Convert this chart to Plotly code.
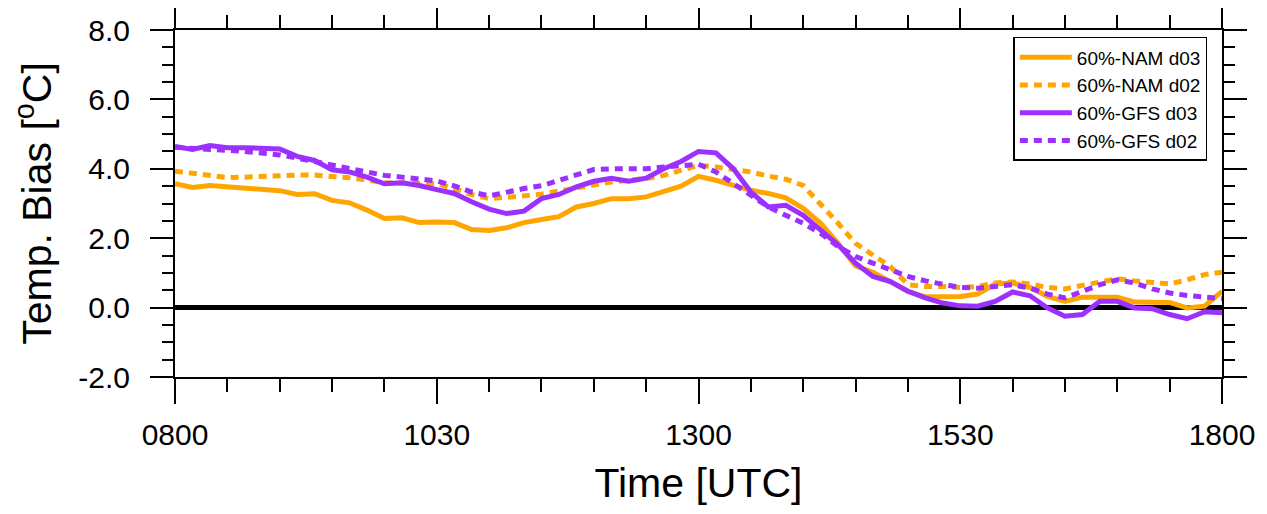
import plotly.graph_objects as go

# time in minutes after 0800 UTC, every 10 minutes
minutes = list(range(0, 601, 10))
hours = [8 + m / 60 for m in minutes]

nam_d03 = [3.57, 3.46, 3.52, 3.48, 3.42, 3.40, 3.37, 3.26, 3.28, 3.09,
           3.02, 2.81, 2.57, 2.59, 2.45, 2.47, 2.45, 2.25, 2.22, 2.30,
           2.45, 2.54, 2.62, 2.90, 3.00, 3.14, 3.14, 3.19, 3.33, 3.50,
           3.78, 3.67, 3.52, 3.38, 3.29, 3.16, 2.86, 2.43, 1.85, 1.20,
           1.02, 0.75, 0.47, 0.31, 0.31, 0.32, 0.39, 0.68, 0.71, 0.58,
           0.32, 0.18, 0.30, 0.31, 0.30, 0.16, 0.16, 0.15, -0.01, 0.04,
           0.47]
nam_d02 = [3.93, 3.86, 3.80, 3.75, 3.76, 3.79, 3.81, 3.82, 3.82, 3.79,
           3.74, 3.68, 3.60, 3.59, 3.58, 3.57, 3.43, 3.26, 3.14, 3.17,
           3.22, 3.27, 3.36, 3.46, 3.54, 3.62, 3.67, 3.72, 3.81, 3.95,
           4.10, 4.05, 3.98, 3.91, 3.79, 3.70, 3.52, 3.00, 2.43, 1.85,
           1.52, 1.18, 0.66, 0.61, 0.61, 0.58, 0.61, 0.71, 0.74, 0.68,
           0.58, 0.54, 0.64, 0.75, 0.83, 0.77, 0.73, 0.68, 0.80, 0.95,
           1.02]
gfs_d03 = [4.64, 4.56, 4.67, 4.61, 4.61, 4.59, 4.57, 4.36, 4.24, 3.97,
           3.91, 3.76, 3.57, 3.60, 3.52, 3.40, 3.29, 3.05, 2.84, 2.71,
           2.78, 3.14, 3.26, 3.48, 3.64, 3.73, 3.64, 3.73, 4.00, 4.21,
           4.50, 4.46, 4.00, 3.33, 2.90, 2.95, 2.66, 2.23, 1.81, 1.28,
           0.90, 0.75, 0.47, 0.28, 0.13, 0.05, 0.04, 0.18, 0.45, 0.34,
           -0.01, -0.25, -0.20, 0.18, 0.18, -0.01, -0.03, -0.20, -0.32, -0.12,
           -0.15]
gfs_d02 = [4.62, 4.60, 4.58, 4.53, 4.50, 4.46, 4.40, 4.31, 4.21, 4.08,
           4.00, 3.91, 3.81, 3.76, 3.72, 3.65, 3.51, 3.33, 3.22, 3.33,
           3.43, 3.51, 3.67, 3.81, 3.98, 4.00, 4.00, 4.00, 4.05, 4.08,
           4.13, 3.91, 3.57, 3.24, 2.90, 2.66, 2.43, 2.14, 1.76, 1.47,
           1.28, 1.06, 0.90, 0.77, 0.68, 0.58, 0.56, 0.61, 0.66, 0.56,
           0.39, 0.28, 0.47, 0.66, 0.80, 0.71, 0.54, 0.42, 0.35, 0.31,
           0.26]

x_tickvals = [8, 10.5, 13, 15.5, 18]
x_ticktext = ["0800", "1030", "1300", "1530", "1800"]
y_tickvals = [-2, 0, 2, 4, 6, 8]
y_ticktext = ["-2.0", "0.0", "2.0", "4.0", "6.0", "8.0"]

ORANGE = "#FFA500"
PURPLE = "#9B30FF"
FONT = "Liberation Sans, Arial, Helvetica, sans-serif"
DOT = "8px,6px"

fig = go.Figure()
series = [
    ("60%-NAM d03", nam_d03, ORANGE, "solid"),
    ("60%-NAM d02", nam_d02, ORANGE, DOT),
    ("60%-GFS d03", gfs_d03, PURPLE, "solid"),
    ("60%-GFS d02", gfs_d02, PURPLE, DOT),
]
for name, vals, col, dash in series:
    fig.add_trace(go.Scatter(x=hours, y=vals, mode="lines", name=name,
                             line=dict(color=col, width=5, dash=dash)))

# page body has an 8px margin, so the figure is sized to fit the window
fig.update_layout(
    width=1259, height=506, autosize=False,
    margin=dict(l=167, r=45, t=22, b=137),
    paper_bgcolor="white", plot_bgcolor="white",
    font=dict(family=FONT, color="black"),
    showlegend=True,
    legend=dict(x=0.986, y=0.98, xanchor="right", yanchor="top",
                bgcolor="white", bordercolor="black", borderwidth=1.5,
                font=dict(size=19, family=FONT),
                tracegroupgap=0, itemwidth=52),
)
fig.update_xaxes(
    range=[8, 18], tickvals=x_tickvals, ticktext=x_ticktext,
    automargin=False,
    showgrid=False, zeroline=False,
    showline=True, linecolor="black", linewidth=2, mirror="allticks",
    ticks="outside", ticklen=25, tickwidth=2, tickcolor="black",
    minor=dict(dtick=0.5, tick0=8, ticks="outside", ticklen=13,
               tickwidth=1.5, tickcolor="black", showgrid=False),
    tickfont=dict(size=30, family=FONT),
    ticklabelstandoff=5,
    title=dict(text="Time [UTC]", font=dict(size=41, family=FONT), standoff=18),
)
fig.update_yaxes(
    range=[-2, 8], tickvals=y_tickvals, ticktext=y_ticktext,
    automargin=False,
    showgrid=False, zeroline=True, zerolinecolor="black", zerolinewidth=5,
    showline=True, linecolor="black", linewidth=2, mirror="allticks",
    ticks="outside", ticklen=23, tickwidth=2, tickcolor="black",
    minor=dict(dtick=0.5, tick0=0, ticks="outside", ticklen=11,
               tickwidth=1.5, tickcolor="black", showgrid=False),
    tickfont=dict(size=30, family=FONT),
    ticklabelstandoff=14,
    title=dict(text="Temp. Bias [<sup>o</sup>C]", font=dict(size=41, family=FONT),
               standoff=32),
)

fig.write_html("out.html")
